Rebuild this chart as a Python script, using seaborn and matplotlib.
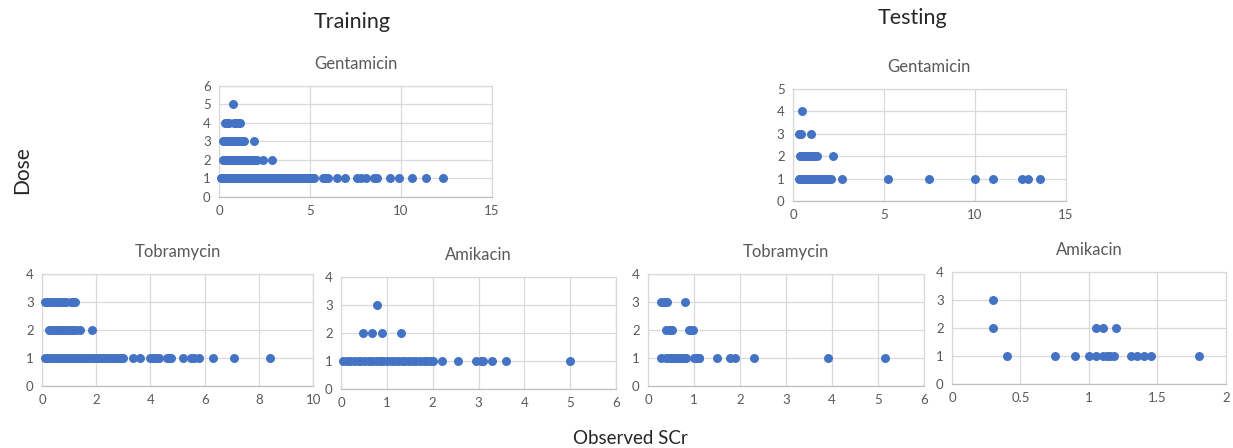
import pandas as pd
import matplotlib
matplotlib.use("Agg")
import matplotlib.pyplot as plt
from matplotlib.ticker import FuncFormatter
import seaborn as sns

tr_gen_1 = [0.1, 0.2, 0.3, 0.4, 0.5, 0.6, 0.7, 0.8, 0.9, 1.0, 1.1, 1.2, 1.3, 1.4, 1.5,
            1.6, 1.7, 1.8, 1.9, 2.0, 2.1, 2.2, 2.3, 2.4, 2.5, 2.6, 2.7, 2.8, 2.9, 3.0,
            3.1, 3.2, 3.3, 3.4, 3.5, 3.6, 3.7, 3.8, 3.9, 4.0, 4.1, 4.2, 4.3, 4.4, 4.5,
            4.6, 4.7, 4.8, 4.9, 5.0, 5.1, 5.2, 5.7, 5.8, 5.9, 6.0, 6.5, 6.9, 7.6, 7.8,
            8.1, 8.5, 8.7, 9.4, 9.9, 10.6, 11.4, 12.3]
tr_gen_2 = [0.2, 0.3, 0.4, 0.5, 0.6, 0.7, 0.8, 0.9, 1.0, 1.1, 1.2, 1.3, 1.4, 1.5, 1.6,
            1.7, 1.8, 1.9, 2.0, 2.1, 2.4, 2.9]
tr_gen_3 = [0.2, 0.3, 0.4, 0.5, 0.6, 0.7, 0.8, 0.9, 1.0, 1.1, 1.2, 1.3, 1.4, 1.9]
tr_gen_4 = [0.35, 0.45, 0.55, 0.85, 0.95, 1.05, 1.15]
tr_gen_5 = [0.75]

te_gen_1 = [0.33, 0.4, 0.5, 0.6, 0.7, 0.8, 0.9, 1.0, 1.1, 1.2, 1.3, 1.4, 1.5, 1.6, 1.7,
            1.8, 1.9, 2.0, 2.1, 2.7, 5.2, 7.45, 10.0, 11.0, 12.6, 12.9, 13.6]
te_gen_2 = [0.37, 0.45, 0.55, 0.65, 0.75, 0.85, 0.95, 1.05, 1.15, 1.3, 2.2]
te_gen_3 = [0.33, 0.45, 1.0]
te_gen_4 = [0.48]

tr_tob_1 = [0.12, 0.2, 0.3, 0.4, 0.5, 0.6, 0.7, 0.8, 0.9, 1.0, 1.1, 1.2, 1.3, 1.4, 1.5,
            1.6, 1.7, 1.8, 1.9, 2.0, 2.1, 2.2, 2.3, 2.4, 2.5, 2.6, 2.7, 2.8, 2.9, 3.0,
            3.35, 3.6, 4.0, 4.1, 4.2, 4.3, 4.6, 4.7, 4.75, 5.2, 5.5, 5.6, 5.8, 6.3,
            7.1, 8.4]
tr_tob_2 = [0.25, 0.35, 0.45, 0.55, 0.65, 0.75, 0.85, 0.95, 1.05, 1.15, 1.25, 1.4, 1.85]
tr_tob_3 = [0.12, 0.2, 0.3, 0.4, 0.5, 0.6, 0.7, 0.8, 0.9, 1.05, 1.15, 1.2]

tr_ami_1 = [0.05, 0.12, 0.2, 0.28, 0.36, 0.44, 0.52, 0.6, 0.68, 0.76, 0.84, 0.92, 1.0,
            1.08, 1.16, 1.24, 1.32, 1.4, 1.48, 1.56, 1.64, 1.72, 1.8, 1.88, 1.96, 2.0,
            2.2, 2.55, 2.95, 3.05, 3.1, 3.3, 3.6, 5.0]
tr_ami_2 = [0.48, 0.68, 0.9, 1.3]
tr_ami_3 = [0.79]

te_tob_1 = [0.29, 0.4, 0.45, 0.5, 0.55, 0.6, 0.65, 0.7, 0.75, 0.8, 0.83, 1.0, 1.05,
            1.1, 1.12, 1.5, 1.78, 1.9, 2.3, 3.92, 5.15]
te_tob_2 = [0.4, 0.45, 0.5, 0.52, 0.9, 0.95, 0.98]
te_tob_3 = [0.29, 0.35, 0.41, 0.81]

te_ami_1 = [0.4, 0.75, 0.9, 1.0, 1.05, 1.1, 1.13, 1.15, 1.18, 1.31, 1.35, 1.4, 1.45, 1.8]
te_ami_2 = [0.3, 1.05, 1.1, 1.2]
te_ami_3 = [0.3]


def to_df(*levels):
    rows = []
    for dose, vals in enumerate(levels, start=1):
        for v in vals:
            rows.append({"SCr": v, "Dose": dose})
    return pd.DataFrame(rows)


sns.set_style("white")
plt.rcParams['font.family'] = ['Lato', 'DejaVu Sans']

blue = "#4472C4"
grid_c = "#D9D9D9"
tick_c = "#595959"

fig = plt.figure(figsize=(12.33, 4.48), dpi=100)

panels = [
    # (data, rect, title, xmax, xstep, ymax)
    (to_df(tr_gen_1, tr_gen_2, tr_gen_3, tr_gen_4, tr_gen_5),
     [0.1776, 0.5603, 0.2214, 0.2478], "Gentamicin", 15, 5, 6),
    (to_df(te_gen_1, te_gen_2, te_gen_3, te_gen_4),
     [0.6431, 0.5513, 0.2214, 0.25], "Gentamicin", 15, 5, 5),
    (to_df(tr_tob_1, tr_tob_2, tr_tob_3),
     [0.0341, 0.1384, 0.2198, 0.25], "Tobramycin", 10, 2, 4),
    (to_df(tr_ami_1, tr_ami_2, tr_ami_3),
     [0.2766, 0.1317, 0.2230, 0.25], "Amikacin", 6, 1, 4),
    (to_df(te_tob_1, te_tob_2, te_tob_3),
     [0.5255, 0.1384, 0.2238, 0.25], "Tobramycin", 6, 1, 4),
    (to_df(te_ami_1, te_ami_2, te_ami_3),
     [0.7721, 0.1429, 0.2222, 0.25], "Amikacin", 2, 0.5, 4),
]

fmt = FuncFormatter(lambda v, p: "%g" % v)

for df, rect, title, xmax, xstep, ymax in panels:
    ax = fig.add_axes(rect)
    sns.scatterplot(data=df, x="SCr", y="Dose", ax=ax, color=blue, s=42,
                    edgecolor=blue, linewidth=0, zorder=3, clip_on=False)
    ax.set_xlim(0, xmax)
    ax.set_ylim(0, ymax)
    n = int(round(xmax / xstep))
    ax.set_xticks([i * xstep for i in range(n + 1)])
    ax.set_yticks(range(ymax + 1))
    ax.xaxis.set_major_formatter(fmt)
    ax.grid(True, color=grid_c, linewidth=0.9, zorder=0)
    ax.set_axisbelow(True)
    for sp in ax.spines.values():
        sp.set_color(grid_c)
        sp.set_linewidth(0.9)
    ax.spines["bottom"].set_color("#BFBFBF")
    ax.tick_params(length=0, labelsize=9.5, colors=tick_c, pad=6)
    ax.set_xlabel("")
    ax.set_ylabel("")
    ax.set_title(title, fontsize=12, color=tick_c, pad=12)

fig.text(0.2855, 0.95, "Training", ha="center", va="center", fontsize=15.5)
fig.text(0.7397, 0.96, "Testing", ha="center", va="center", fontsize=15.5)
fig.text(0.018, 0.62, "Dose", rotation=90, ha="center", va="center", fontsize=15)
fig.text(0.511, 0.022, "Observed SCr", ha="center", va="center", fontsize=13.5)

fig.savefig("out.png", dpi=100)
